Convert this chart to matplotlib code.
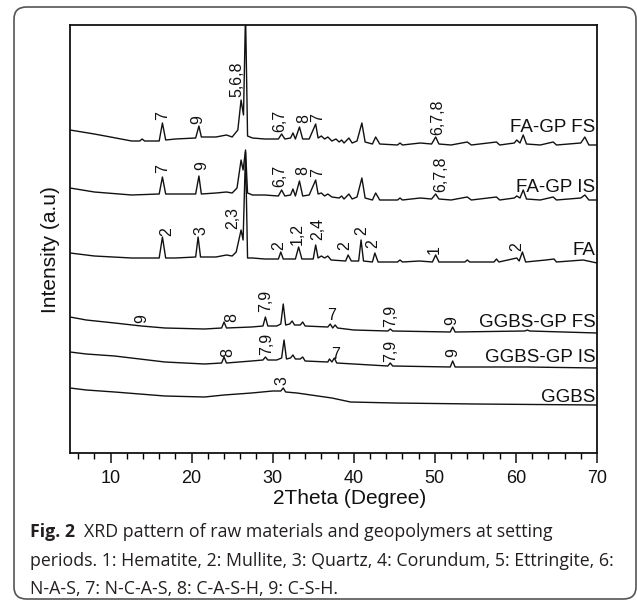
import matplotlib
matplotlib.use("Agg")
import matplotlib.pyplot as plt
from matplotlib.patches import FancyBboxPatch
from matplotlib.ticker import MultipleLocator

plt.rcParams['font.family'] = ['Liberation Sans', 'DejaVu Sans']

# ---------------- data (2theta in degrees, intensity in a.u., stacked) ----------------
fagp_fs_x = [5, 8, 10, 12.6, 13.6, 13.9, 14.2, 16.0, 16.4, 16.8, 18, 20.5, 20.9, 21.2, 23, 24.3, 25,
             25.7, 26.1, 26.4, 26.65, 26.9, 27.5, 29, 30.7, 31.1, 31.5, 32.2, 32.5, 32.8, 33.3, 33.7,
             34.5, 35.3, 35.6, 36.0, 36.4, 36.8, 37.3, 37.8, 38.2, 38.5, 38.8, 39.4, 39.8, 40.4, 41.0,
             41.4, 42.3, 42.7, 43.2, 45.4, 45.7, 46.0, 48.2, 49.6, 50.1, 50.5, 52, 54.0, 54.5, 57.6,
             58, 59.8, 60.1, 60.5, 60.9, 61.3, 63, 64.6, 65, 68.0, 68.5, 69, 70]
fagp_fs_y = [323, 319, 316, 312, 312, 314, 312, 312, 330, 313, 314, 315, 327, 316, 316, 318, 316,
             323, 353, 338, 440, 317, 315, 314, 314, 319, 314, 315, 320, 314, 326, 314,
             314, 329, 315, 317, 314, 316, 312, 314, 311, 313, 310, 315, 310, 312, 330,
             311, 309, 316, 309, 308, 310, 308, 310, 309, 316, 309, 308, 311, 308, 311,
             308, 310, 313, 310, 318, 309, 308, 311, 308, 310, 316, 308, 308]

fagp_is_x = [5, 8, 12.6, 16.0, 16.4, 16.8, 18, 20.5, 20.9, 21.2, 23, 24.3, 25, 25.6, 26.1, 26.35,
             26.65, 26.9, 27.5, 29, 30.7, 31.1, 31.5, 32.2, 32.5, 32.8, 33.3, 33.7, 34.5, 35.3, 35.6,
             36.0, 36.4, 36.8, 37.3, 38.2, 38.5, 38.8, 39.4, 39.8, 40.4, 41.0, 41.4, 42.3, 42.7, 43.2,
             45.4, 45.7, 46.0, 48.2, 49.6, 50.1, 50.5, 52, 54.0, 54.5, 57.6, 58, 59.8, 60.1, 60.5,
             60.9, 61.3, 63, 64.6, 65, 68.0, 68.5, 69, 70]
fagp_is_y = [265, 261, 258, 259, 276, 259, 259, 259, 277, 259, 260, 261, 260, 265, 293, 283,
             303, 260, 258, 258, 257, 263, 257, 258, 264, 257, 272, 257, 258, 273, 259,
             260, 257, 259, 256, 255, 257, 254, 259, 254, 256, 275, 255, 253, 260, 253,
             253, 255, 253, 255, 254, 259, 254, 253, 256, 253, 256, 253, 255, 257, 255,
             263, 254, 253, 256, 253, 255, 258, 253, 253]

fa_x = [5, 8, 12.6, 16.0, 16.4, 16.8, 18, 20.5, 20.8, 21.1, 23, 24.3, 25, 25.5, 26.1, 26.35, 26.65,
        26.9, 27.5, 29, 30.7, 31.0, 31.3, 32.8, 33.2, 33.6, 35.0, 35.3, 35.6, 36.0, 36.4, 36.8, 37.2,
        39.0, 39.3, 39.7, 40.6, 40.9, 41.2, 42.3, 42.6, 43.0, 45.4, 45.7, 46, 48.1, 49.7, 50.1, 50.5,
        53.7, 54.0, 54.3, 57.3, 57.6, 57.9, 60.1, 60.4, 60.8, 61.2, 63.7, 64.7, 65, 68.3, 70]
fa_y = [200, 197, 195, 195, 216, 195, 195, 196, 216, 196, 196, 198, 197, 201, 223, 213, 301,
        195, 195, 194, 194, 201, 194, 194, 206, 194, 194, 208, 195, 197, 195, 197, 193,
        192, 198, 192, 192, 213, 192, 191, 200, 191, 191, 193, 191, 192, 191, 198, 191,
        191, 193, 191, 191, 194, 191, 195, 192, 201, 191, 193, 194, 191, 193, 190]

ggbs_fs_x = [5, 7, 10.5, 13.8, 16.7, 21.6, 23.7, 24.0, 24.3, 27.4, 28.8, 29.1, 29.4, 30.5, 31.0,
             31.3, 31.6, 32.1, 32.4, 32.7, 33.4, 33.7, 34.0, 36.8, 37.1, 37.4, 37.7, 38, 40, 44.2,
             44.5, 44.8, 51.9, 52.2, 52.5, 61.1, 61.4, 61.7, 70]
ggbs_fs_y = [136, 133, 130, 127, 125, 124, 125, 131, 125, 126, 127, 136, 127, 127, 129,
             149, 128, 129, 132, 128, 128, 131, 127, 126, 129, 125, 128, 125, 123, 122,
             124, 122, 121, 126, 121, 122, 123, 122, 120]

ggbs_is_x = [5, 7, 10.5, 16.7, 21.6, 23.7, 24.0, 24.3, 27.4, 28.8, 29.1, 29.4, 30.5, 31.1, 31.4,
             31.7, 32.2, 32.5, 32.8, 33.4, 33.7, 34.0, 36.8, 37.0, 37.3, 37.6, 37.9, 40, 44.2, 44.5,
             44.8, 51.9, 52.2, 52.5, 61.4, 70]
ggbs_is_y = [101, 99, 97, 91, 89, 90, 96, 90, 92, 93, 96, 93, 93, 95, 113,
             94, 95, 98, 94, 94, 96, 92, 91, 94, 91, 95, 90, 89, 87, 90,
             87, 86, 92, 86, 86, 85]

ggbs_x = [5, 7, 10.5, 16.7, 21.6, 24, 27.4, 30, 31.0, 31.3, 31.6, 33, 37.3, 39.6, 45, 55, 70]
ggbs_y = [65, 63, 61, 57, 56, 58, 60, 62, 62, 65, 61, 60, 55, 51, 50, 49, 48]

series = [("FA-GP FS", fagp_fs_x, fagp_fs_y, 321),
          ("FA-GP IS", fagp_is_x, fagp_is_y, 261),
          ("FA", fa_x, fa_y, 198),
          ("GGBS-GP FS", ggbs_fs_x, ggbs_fs_y, 126),
          ("GGBS-GP IS", ggbs_is_x, ggbs_is_y, 91),
          ("GGBS", ggbs_x, ggbs_y, 51)]

# peak annotations: (text, 2theta, intensity of label bottom, rotated)
peak_labels = [
    ("7", 16.4, 333, True), ("9", 20.8, 329, True), ("5,6,8", 25.6, 356, True),
    ("6,7", 30.9, 321, True), ("8", 33.8, 330, True), ("7", 35.6, 331, True),
    ("6,7,8", 50.4, 318, True),
    ("7", 16.4, 280, True), ("9", 21.2, 283, True), ("6,7", 30.9, 266, True),
    ("8", 33.7, 278, True), ("7", 35.6, 276, True), ("6,7,8", 50.7, 261, True),
    ("2", 16.9, 217, True), ("3", 21.2, 218, True), ("2,3", 25.1, 224, True),
    ("2", 30.7, 203, True), ("1,2", 33.0, 208, True), ("2,4", 35.6, 213, True),
    ("2", 38.9, 203, True), ("2", 41.0, 218, True), ("2", 42.3, 205, True),
    ("1", 49.9, 199, True), ("2", 60.1, 202, True),
    ("9", 13.8, 130, True), ("8", 24.9, 131, True), ("7,9", 29.1, 141, True),
    ("7", 37.3, 130, False), ("7,9", 44.5, 126, True), ("9", 52.1, 128, True),
    ("8", 24.4, 96, True), ("7,9", 29.3, 98, True), ("7", 37.7, 91, False),
    ("7,9", 44.6, 91, True), ("9", 52.2, 96, True),
    ("3", 31.2, 68, True),
]

xticks_major = [10, 20, 30, 40, 50, 60, 70]

# ---------------- figure ----------------
W, H = 637, 601
fig = plt.figure(figsize=(W / 100, H / 100), dpi=100)

box = FancyBboxPatch((14 / W, 1 - 599 / H), (636 - 14) / W, (599 - 7) / H,
                     boxstyle="round,pad=0,rounding_size=0.02",
                     transform=fig.transFigure, facecolor='none',
                     edgecolor='#555555', linewidth=1.2, zorder=0)
fig.patches.append(box)

ax = fig.add_axes([70 / W, 1 - 453 / H, (597 - 70) / W, (453 - 25) / H])
ax.set_facecolor('none')

for name, xs, ys, ly in series:
    ax.plot(xs, ys, color='#111111', lw=1.0)
    ax.text(69.8, ly, name, ha='right', va='baseline', fontsize=13.5, color='#111111')

for txt, px, py, rot in peak_labels:
    if rot:
        ax.text(px, py, txt, rotation=90, ha='center', va='bottom', fontsize=11.5,
                color='#111111')
    else:
        ax.text(px, py, txt, ha='center', va='bottom', fontsize=11.5, color='#111111')

ax.set_xlim(5, 70)
ax.set_ylim(0, 428)
ax.set_xticks(xticks_major)
ax.xaxis.set_minor_locator(MultipleLocator(2))
ax.tick_params(axis='x', which='major', direction='out', length=7, width=1.1,
               labelsize=13, pad=5, colors='#111111')
ax.tick_params(axis='x', which='minor', direction='out', length=4, width=1.0)
ax.tick_params(axis='x', top=False)
ax.set_yticks([])
for s in ax.spines.values():
    s.set_linewidth(1.3)
    s.set_color('#111111')

fig.text(350 / W, 1 - 498 / H, "2Theta (Degree)", ha='center', va='center',
         fontsize=15, color='#111111')
fig.text(51 / W, 1 - 250 / H, "Intensity (a.u)", ha='center', va='center',
         rotation=90, fontsize=15, color='#111111')

# ---------------- caption ----------------
cap_font = 'Open Sans'
cap_size = 12.8
renderer = fig.canvas.get_renderer()
t1 = fig.text(30 / W, 1 - 537 / H, "Fig. 2", fontweight='bold', family=cap_font,
              fontsize=cap_size, va='baseline', color='#231f20')
bb = t1.get_window_extent(renderer)
fig.text((bb.x1 + 9) / W, 1 - 537 / H,
         "XRD pattern of raw materials and geopolymers at setting",
         family=cap_font, fontsize=cap_size, va='baseline', color='#231f20')
fig.text(30 / W, 1 - 566 / H,
         "periods. 1: Hematite, 2: Mullite, 3: Quartz, 4: Corundum, 5: Ettringite, 6:",
         family=cap_font, fontsize=cap_size, va='baseline', color='#231f20')
fig.text(30 / W, 1 - 594 / H, "N-A-S, 7: N-C-A-S, 8: C-A-S-H, 9: C-S-H.",
         family=cap_font, fontsize=cap_size, va='baseline', color='#231f20')

fig.savefig("out.png", dpi=100)
